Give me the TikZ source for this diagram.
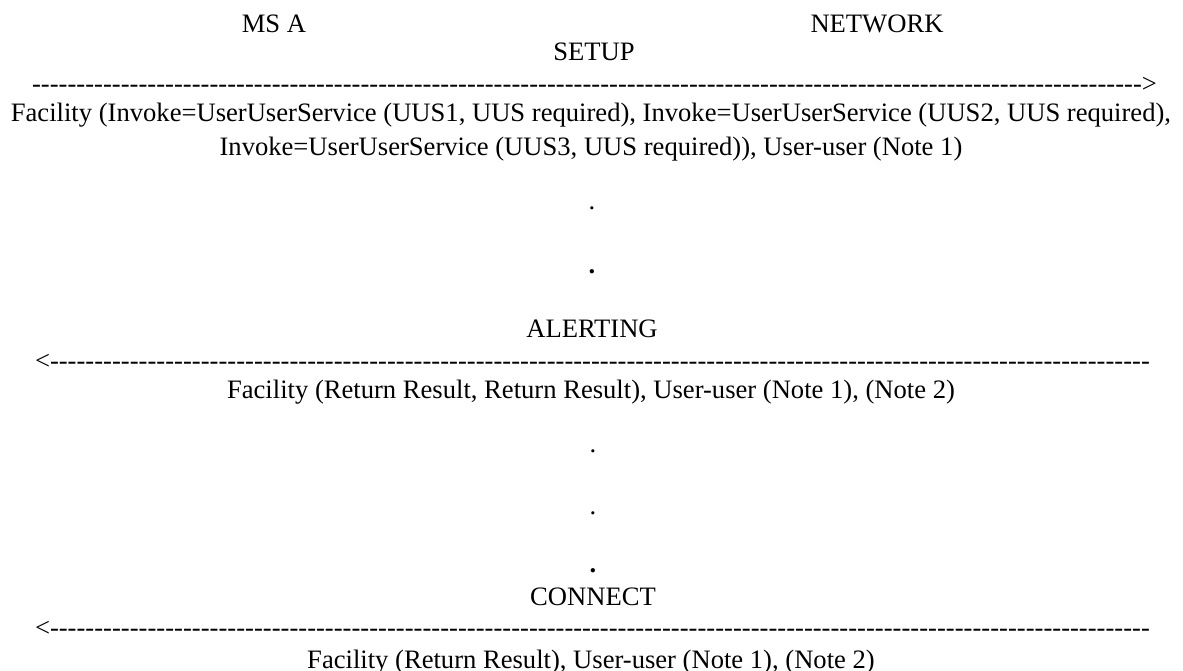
\documentclass[tikz,border=0pt]{standalone}
\usepackage{fontspec}
\setmainfont{Liberation Serif}
\begin{document}
\begin{tikzpicture}[x=1pt,y=-1pt,
  txt/.style={inner sep=0pt, outer sep=0pt, anchor=base, font=\fontsize{26.6}{32}\selectfont},
  rarrow/.style={txt, anchor=base west},
  dotnode/.style={txt}]
\useasboundingbox (0,0) rectangle (1183,670);
% headers
\node[txt] (msa) at (274,32) {MS A};
\node[txt] (net) at (877,32) {NETWORK};
% SETUP
\node[txt] (setup) at (594,60) {SETUP};
\node[rarrow] (setuparrow) at (32,92) {\hbox to 1125pt{\xleaders\hbox{-}\hfill>}};
\node[txt] (setup1) at (591,121) {Facility (Invoke=UserUserService (UUS1, UUS required), Invoke=UserUserService (UUS2, UUS required),};
\node[txt] (setup2) at (591,155) {Invoke=UserUserService (UUS3, UUS required)), User-user (Note 1)};
% dots
\node[dotnode] (d1) at (592,209) {.};
\node[dotnode] (d2) at (592,273) {\textbf{.}};
% ALERTING
\node[txt] (alert) at (592,337) {ALERTING};
\node[rarrow] (alertarrow) at (35,369) {\hbox to 1115pt{<\xleaders\hbox{-}\hfill}};
\node[txt] (alert1) at (591,398) {Facility (Return Result, Return Result), User-user (Note 1), (Note 2)};
% dots
\node[dotnode] (d3) at (593,452) {.};
\node[dotnode] (d4) at (593,514) {.};
\node[dotnode] (d5) at (593,572) {\textbf{.}};
% CONNECT
\node[txt] (conn) at (593,605) {CONNECT};
\node[rarrow] (connarrow) at (35,636) {\hbox to 1115pt{<\xleaders\hbox{-}\hfill}};
\node[txt] (conn1) at (591,668) {Facility (Return Result), User-user (Note 1), (Note 2)};
\end{tikzpicture}
\end{document}
